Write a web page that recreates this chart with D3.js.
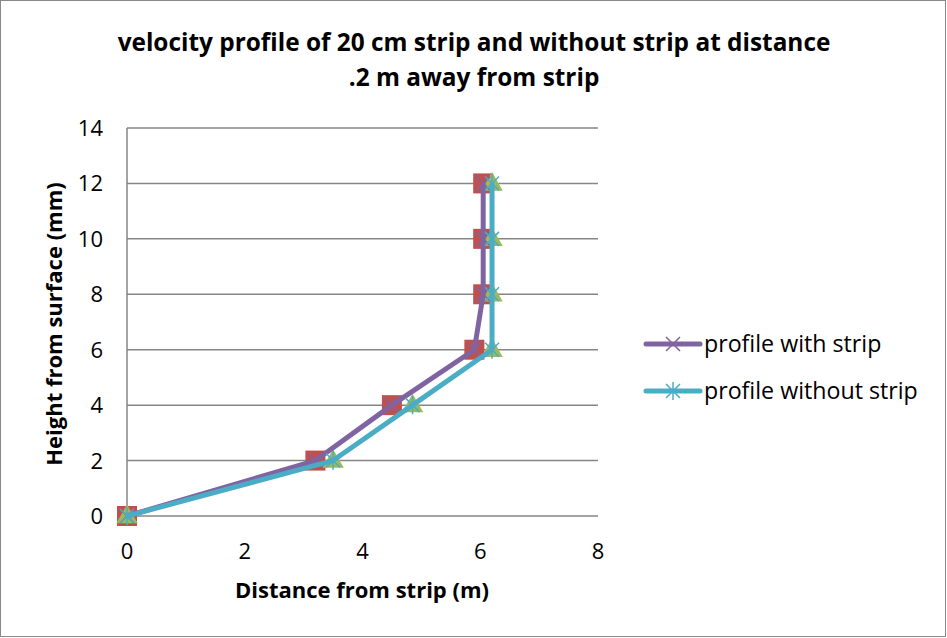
<!DOCTYPE html>
<html>
<head>
<meta charset="utf-8">
<script src="https://cdn.jsdelivr.net/npm/d3@7"></script>
<style>
  body { margin: 0; background: #fff; }
  text { font-family: 'Open Sans', 'Noto Sans', sans-serif; }
</style>
</head>
<body>
<div id="chart"></div>
<script>
// chart data
var heights = [0, 2, 4, 6, 8, 10, 12];
var withStrip = [0, 3.2, 4.5, 5.9, 6.05, 6.05, 6.05];
var withoutStrip = [0, 3.5, 4.85, 6.2, 6.2, 6.2, 6.2];
var xTicks = [0, 2, 4, 6, 8];
var yTicks = [0, 2, 4, 6, 8, 10, 12, 14];
var seriesNames = ["profile with strip", "profile without strip"];

var width = 947,
  height = 638;

var svg = d3.select("#chart")
  .append("svg")
  .attr("width", width)
  .attr("height", height);

// outer border
svg.append("rect")
  .attr("x", 0.5).attr("y", 0.5)
  .attr("width", width - 2).attr("height", height - 2)
  .attr("fill", "#fff")
  .attr("stroke", "#888").attr("stroke-width", 1);

var x = d3.scaleLinear().domain([0, 8]).range([127, 598]);
var y = d3.scaleLinear().domain([0, 14]).range([516, 128]);

// gridlines
svg.selectAll(".grid")
  .data(yTicks)
  .enter()
  .append("line")
  .attr("x1", x(0)).attr("x2", x(8))
  .attr("y1", function(d) { return y(d); })
  .attr("y2", function(d) { return y(d); })
  .attr("stroke", "#868686").attr("stroke-width", 1.5);

// y axis line
svg.append("line")
  .attr("x1", x(0)).attr("x2", x(0))
  .attr("y1", y(0)).attr("y2", y(14))
  .attr("stroke", "#868686").attr("stroke-width", 1.5);

// tick labels
svg.selectAll(".ylab")
  .data(yTicks)
  .enter()
  .append("text")
  .attr("x", 103)
  .attr("y", function(d) { return y(d) + 8; })
  .attr("text-anchor", "end")
  .attr("font-size", "22px")
  .text(function(d) { return d; });

svg.selectAll(".xlab")
  .data(xTicks)
  .enter()
  .append("text")
  .attr("x", function(d) { return x(d); })
  .attr("y", 559)
  .attr("text-anchor", "middle")
  .attr("font-size", "22px")
  .text(function(d) { return d; });

// titles
svg.append("text")
  .attr("x", 474).attr("y", 51)
  .attr("text-anchor", "middle")
  .attr("font-size", "24.4px").attr("font-weight", "bold")
  .text("velocity profile of 20 cm strip and without strip at distance");
svg.append("text")
  .attr("x", 474).attr("y", 86)
  .attr("text-anchor", "middle")
  .attr("font-size", "24.4px").attr("font-weight", "bold")
  .text(".2 m away from strip");

svg.append("text")
  .attr("x", 362).attr("y", 598)
  .attr("text-anchor", "middle")
  .attr("font-size", "22px").attr("font-weight", "bold")
  .text("Distance from strip (m)");

svg.append("text")
  .attr("transform", "translate(62,324) rotate(-90)")
  .attr("text-anchor", "middle")
  .attr("font-size", "22px").attr("font-weight", "bold")
  .text("Height from surface (mm)");

var pts1 = heights.map(function(h, i) { return [withStrip[i], h]; });
var pts2 = heights.map(function(h, i) { return [withoutStrip[i], h]; });

// hidden series markers (square and triangle)
svg.selectAll(".sq")
  .data(pts1)
  .enter()
  .append("rect")
  .attr("x", function(d) { return x(d[0]) - 10; })
  .attr("y", function(d) { return y(d[1]) - 10; })
  .attr("width", 20).attr("height", 20)
  .attr("fill", "#C0504D");

var tri = d3.symbol().type(d3.symbolTriangle).size(200);
svg.selectAll(".tri")
  .data(pts2)
  .enter()
  .append("path")
  .attr("d", tri)
  .attr("transform", function(d) { return "translate(" + x(d[0]) + "," + (y(d[1]) + 1) + ")"; })
  .attr("fill", "#9BBB59");

var line = d3.line()
  .x(function(d) { return x(d[0]); })
  .y(function(d) { return y(d[1]); });

function drawX(g, cx, cy, r, col) {
  g.append("path")
    .attr("d", "M" + (cx - r) + "," + (cy - r) + "L" + (cx + r) + "," + (cy + r) +
      "M" + (cx - r) + "," + (cy + r) + "L" + (cx + r) + "," + (cy - r))
    .attr("stroke", col).attr("stroke-width", 1.5).attr("fill", "none");
}
function drawStar(g, cx, cy, r, col) {
  drawX(g, cx, cy, r, col);
  g.append("path")
    .attr("d", "M" + cx + "," + (cy - r * 1.3) + "L" + cx + "," + (cy + r * 1.3))
    .attr("stroke", col).attr("stroke-width", 1.5).attr("fill", "none");
}

svg.append("path")
  .datum(pts1)
  .attr("d", line)
  .attr("fill", "none")
  .attr("stroke", "#8064A2").attr("stroke-width", 5)
  .attr("stroke-linejoin", "round");
pts1.forEach(function(d) { drawX(svg, x(d[0]), y(d[1]), 7, "#8064A2"); });

svg.append("path")
  .datum(pts2)
  .attr("d", line)
  .attr("fill", "none")
  .attr("stroke", "#4BACC6").attr("stroke-width", 5)
  .attr("stroke-linejoin", "round");
pts2.forEach(function(d) { drawStar(svg, x(d[0]), y(d[1]), 7, "#4BACC6"); });

// legend
var legend = svg.selectAll(".legend")
  .data([{ name: seriesNames[0], col: "#8064A2", star: false },
         { name: seriesNames[1], col: "#4BACC6", star: true }])
  .enter()
  .append("g")
  .attr("transform", function(d, i) { return "translate(0," + (344 + i * 47) + ")"; });

legend.append("line")
  .attr("x1", 646).attr("x2", 700)
  .attr("y1", 0).attr("y2", 0)
  .attr("stroke", function(d) { return d.col; })
  .attr("stroke-width", 5).attr("stroke-linecap", "round");

legend.each(function(d) {
  var g = d3.select(this);
  if (d.star) drawStar(g, 673, 0, 7, d.col);
  else drawX(g, 673, 0, 7, d.col);
});

legend.append("text")
  .attr("x", 704).attr("y", 8)
  .attr("font-size", "23.2px")
  .text(function(d) { return d.name; });
</script>
</body>
</html>
